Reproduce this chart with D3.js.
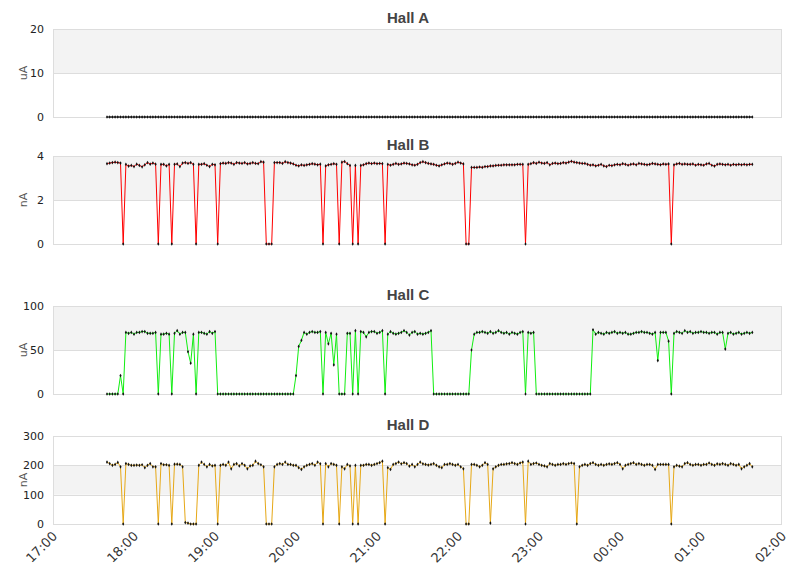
<!DOCTYPE html>
<html>
<head>
<meta charset="utf-8">
<script src="https://cdn.jsdelivr.net/npm/d3@7"></script>
<style>
  html, body { margin: 0; padding: 0; background: #fff; }
  svg { display: block; font-family: "DejaVu Sans", sans-serif; }
</style>
</head>
<body>
<div id="chart"></div>
<script>
// ---- data: one reading every 2 minutes from 17:40 ----
const startTime = new Date(2020, 0, 1, 17, 40);
const stepMinutes = 2;

const hallNames = ["Hall A", "Hall B", "Hall C", "Hall D"];
const hallUnits = ["uA", "nA", "uA", "nA"];
const hallTicks = [[0, 10, 20], [0, 2, 4], [0, 50, 100], [0, 100, 200, 300]];
const xTickLabels = ["17:00", "18:00", "19:00", "20:00", "21:00", "22:00", "23:00", "00:00", "01:00", "02:00"];

const hallA = [
  0,0,0,0,0,0,0,0,0,0, 0,0,0,0,0,0,0,0,0,0, 0,0,0,0,0,0,0,0,0,0, 0,0,0,0,0,0,0,0,0,0,
  0,0,0,0,0,0,0,0,0,0, 0,0,0,0,0,0,0,0,0,0, 0,0,0,0,0,0,0,0,0,0, 0,0,0,0,0,0,0,0,0,0,
  0,0,0,0,0,0,0,0,0,0, 0,0,0,0,0,0,0,0,0,0, 0,0,0,0,0,0,0,0,0,0, 0,0,0,0,0,0,0,0,0,0,
  0,0,0,0,0,0,0,0,0,0, 0,0,0,0,0,0,0,0,0,0, 0,0,0,0,0,0,0,0,0,0, 0,0,0,0,0,0,0,0,0,0,
  0,0,0,0,0,0,0,0,0,0, 0,0,0,0,0,0,0,0,0,0, 0,0,0,0,0,0,0,0,0,0, 0,0,0,0,0,0,0,0,0,0,
  0,0,0,0,0,0,0,0,0,0, 0,0,0,0,0,0,0,0,0,0, 0,0,0,0,0,0,0,0,0,0, 0,0,0,0,0,0,0,0,0,0
];

const hallB = [
  3.65,3.68,3.70,3.72,3.70,3.68,0,3.62,3.54,3.57,
  3.52,3.63,3.57,3.51,3.60,3.70,3.63,3.68,3.63,0,
  3.62,3.62,3.55,3.62,0,3.62,3.64,3.52,3.68,3.70,
  3.66,3.70,3.62,0,3.62,3.62,3.65,3.58,3.52,3.62,
  3.60,0,3.65,3.68,3.66,3.70,3.68,3.62,3.70,3.68,
  3.66,3.70,3.64,3.66,3.70,3.66,3.65,3.74,3.72,0,
  0,0,3.70,3.70,3.70,3.66,3.74,3.70,3.68,3.64,
  3.58,3.55,3.60,3.57,3.60,3.62,3.65,3.63,3.60,3.63,
  0,3.55,3.60,3.62,3.65,3.62,0,3.72,3.75,3.65,
  3.57,0,3.57,0,3.57,3.60,3.65,3.68,3.65,3.68,
  3.65,3.66,3.65,0,3.62,3.58,3.62,3.66,3.62,3.64,
  3.68,3.66,3.64,3.60,3.58,3.62,3.70,3.74,3.70,3.66,
  3.64,3.62,3.58,3.55,3.60,3.64,3.68,3.66,3.62,3.66,
  3.72,3.68,3.64,0,0,3.48,3.48,3.48,3.50,3.48,
  3.52,3.52,3.55,3.55,3.57,3.58,3.58,3.60,3.60,3.60,
  3.60,3.60,3.62,3.62,3.62,0,3.62,3.65,3.70,3.66,
  3.72,3.68,3.66,3.70,3.60,3.66,3.68,3.65,3.66,3.70,
  3.68,3.72,3.76,3.72,3.70,3.68,3.66,3.66,3.62,3.58,
  3.60,3.55,3.58,3.62,3.55,3.52,3.58,3.56,3.60,3.62,
  3.60,3.65,3.62,3.58,3.62,3.64,3.60,3.66,3.64,3.62,
  3.60,3.62,3.66,3.64,3.62,3.60,3.64,3.62,3.64,0,
  3.60,3.64,3.66,3.62,3.64,3.62,3.62,3.64,3.58,3.62,
  3.60,3.58,3.64,3.66,3.58,3.54,3.62,3.64,3.62,3.60,
  3.62,3.58,3.62,3.60,3.62,3.60,3.62,3.60,3.62,3.62
];

const hallC = [
  0,0,0,0,0,21,0,70,69,70,
  68,70,70,71,71,69,69,69,70,0,
  68,68,69,68,0,69,72,68,70,70,
  48,35,68,0,70,70,69,68,71,69,
  71,0,0,0,0,0,0,0,0,0,
  0,0,0,0,0,0,0,0,0,0,
  0,0,0,0,0,0,0,0,0,0,
  21,54,61,70,68,70,71,70,70,71,
  0,70,57,69,33,68,0,0,0,69,
  69,0,72,0,71,70,65,70,71,71,
  69,70,72,0,68,71,69,68,69,70,
  72,70,67,70,71,68,69,68,69,70,
  72,0,0,0,0,0,0,0,0,0,
  0,0,0,0,0,50,68,70,70,71,
  70,69,71,69,70,72,70,69,70,68,
  70,69,68,70,71,0,70,69,70,0,
  0,0,0,0,0,0,0,0,0,0,
  0,0,0,0,0,0,0,0,0,0,
  73,68,70,69,68,70,69,70,71,69,
  70,69,70,68,68,69,70,70,71,70,
  70,69,68,70,38,70,70,70,60,0,
  69,71,70,69,72,70,71,69,70,70,
  71,70,70,69,70,70,68,70,70,51,
  69,70,68,69,70,68,69,70,69,70
];

const hallD = [
  211,206,200,203,210,195,0,206,203,200,
  200,201,200,202,192,200,206,195,195,0,
  206,202,202,200,0,204,204,203,195,5,
  3,0,0,0,200,211,203,195,203,198,
  200,0,200,203,200,211,188,203,206,198,
  206,200,188,198,200,214,206,202,195,0,
  0,0,195,203,206,203,211,203,203,200,
  200,192,186,195,200,203,206,200,211,205,
  0,206,195,206,203,200,0,195,188,203,
  198,0,200,0,200,200,203,203,200,203,
  206,209,214,0,192,186,203,206,211,205,
  209,206,197,203,195,203,211,205,203,201,
  203,206,200,195,192,203,203,206,203,200,
  203,195,188,0,0,203,203,200,195,200,
  209,203,3,188,195,200,203,203,205,206,
  209,206,203,208,211,0,214,203,206,208,
  203,200,198,195,206,203,200,203,203,206,
  203,206,208,206,0,195,200,203,200,206,
  209,203,200,203,200,203,205,203,206,209,
  203,188,200,203,206,209,203,206,203,200,
  203,203,200,186,203,203,203,203,203,0,
  195,200,197,195,206,209,203,200,203,203,
  200,203,203,208,203,200,205,203,206,203,
  200,206,203,200,203,188,195,200,206,195
];

const hallValues = [hallA, hallB, hallC, hallD];
const hallColors = ["#000000", "#ff0000", "#11ee11", "#e6a817"];

// ---- layout ----
const W = 811, H = 578;
const left = 53, right = 782;
const panelTops = [29, 156, 306, 436];
const panelH = 88;

const svg = d3.select("#chart").append("svg")
  .attr("width", W).attr("height", H);

const x = d3.scaleTime()
  .domain([new Date(2020, 0, 1, 17, 0), new Date(2020, 0, 2, 2, 0)])
  .range([left, right]);

const times = hallA.map((_d, i) => new Date(startTime.getTime() + i * stepMinutes * 60000));

hallNames.forEach((name, k) => {
  const top = panelTops[k];
  const bottom = top + panelH;
  const ticks = hallTicks[k];
  const y = d3.scaleLinear().domain([0, d3.max(ticks)]).range([bottom, top]);
  const g = svg.append("g");

  // alternating bands
  g.selectAll("rect.band")
    .data(ticks.slice(0, -1).map((t, j) => [t, ticks[j + 1], j]).filter(d => d[2] % 2 === 1))
    .join("rect")
    .attr("x", left).attr("width", right - left)
    .attr("y", d => y(d[1])).attr("height", d => y(d[0]) - y(d[1]))
    .attr("fill", "#f3f3f3");

  // grid
  g.selectAll("line.grid")
    .data(ticks)
    .join("line")
    .attr("x1", left).attr("x2", right)
    .attr("y1", d => Math.round(y(d)) + 0.5).attr("y2", d => Math.round(y(d)) + 0.5)
    .attr("stroke", "#dddddd");

  // frame
  g.append("rect")
    .attr("x", left + 0.5).attr("y", top + 0.5)
    .attr("width", right - left - 1).attr("height", panelH)
    .attr("fill", "none").attr("stroke", "#dddddd");

  // y tick labels
  g.selectAll("text.tick")
    .data(ticks)
    .join("text")
    .attr("x", 44).attr("y", d => y(d))
    .attr("dy", "0.35em")
    .attr("text-anchor", "end")
    .attr("font-size", 11)
    .attr("fill", "#222")
    .text(d => d);

  // unit label
  g.append("text")
    .attr("transform", `translate(27,${(top + bottom) / 2}) rotate(-90)`)
    .attr("text-anchor", "middle")
    .attr("font-size", 11)
    .attr("fill", "#555")
    .text(hallUnits[k]);

  // title
  g.append("text")
    .attr("x", 408).attr("y", top - 6)
    .attr("text-anchor", "middle")
    .attr("font-family", "'Liberation Sans', Arial, sans-serif")
    .attr("font-size", 15)
    .attr("font-weight", "bold")
    .attr("fill", "#444")
    .text(name);

  // line + markers
  const pts = hallValues[k].map((v, i) => ({ t: times[i], v }));
  const line = d3.line().x(d => x(d.t)).y(d => y(d.v));
  g.append("path")
    .datum(pts)
    .attr("d", line)
    .attr("fill", "none")
    .attr("stroke", hallColors[k])
    .attr("stroke-width", 1);

  const sym = d3.symbol().type(d3.symbolDiamond).size(4);
  g.selectAll("path.pt")
    .data(pts)
    .join("path")
    .attr("transform", d => `translate(${x(d.t)},${y(d.v)})`)
    .attr("d", sym)
    .attr("fill", "#111");
});

// x axis labels (bottom panel only)
const xAxisY = panelTops[3] + panelH;
svg.append("g")
  .selectAll("text")
  .data(x.ticks(d3.timeHour.every(1)))
  .join("text")
  .attr("transform", d => `translate(${x(d) + 5},${xAxisY + 13}) rotate(-45)`)
  .attr("text-anchor", "end")
  .attr("font-size", 13)
  .attr("fill", "#333")
  .text((_d, i) => xTickLabels[i]);
</script>
</body>
</html>
